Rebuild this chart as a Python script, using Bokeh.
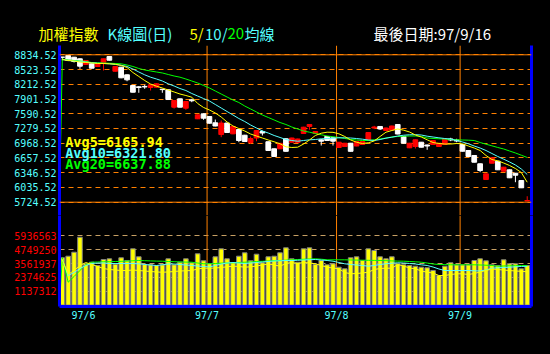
from bokeh.plotting import figure
from bokeh.models import Range1d, FixedTicker, Span, Label, LinearAxis, ColumnDataSource, NumeralTickFormatter
from bokeh.layouts import column
from bokeh.embed import file_html
from bokeh.resources import INLINE
from bokeh.core.properties import value

# ---------------- data ----------------
opens = [8785, 8820, 8784, 8750, 8630, 8645, 8588, 8666, 8799, 8488,
         8573, 8412, 8187, 8159, 8167, 8144, 8151, 8108, 8096, 7729,
         7906, 7708, 7885, 7484, 7589, 7532, 7400, 7152, 7395, 7167,
         7258, 7138, 6984, 7079, 7216, 7000, 6851, 6851, 7062, 6990,
         6984, 7174, 7321, 7174, 7041, 7111, 7083, 6879, 6900, 6969,
         6910, 6942, 7026, 7290, 7322, 7237, 7248, 7364, 7111, 6872,
         6900, 6990, 6931, 6942, 6900, 6942, 7058, 7037, 6942, 6815,
         6710, 6535, 6203, 6547, 6589, 6378, 6408, 6336, 6182, 5750]
highs = [8790, 8830, 8790, 8760, 8720, 8650, 8650, 8755, 8805, 8595,
         8580, 8420, 8195, 8172, 8201, 8205, 8230, 8117, 8100, 7875,
         7910, 7855, 7906, 7575, 7595, 7540, 7469, 7448, 7400, 7330,
         7265, 7145, 7110, 7245, 7237, 7005, 6855, 6975, 7070, 7085,
         7065, 7315, 7364, 7222, 7058, 7115, 7088, 6995, 6975, 6975,
         7010, 7010, 7200, 7336, 7326, 7300, 7340, 7370, 7115, 6975,
         7047, 6995, 6942, 7032, 6975, 7068, 7083, 7062, 6948, 6820,
         6715, 6540, 6330, 6667, 6595, 6470, 6414, 6336, 6188, 5850]
lows = [8714, 8700, 8672, 8539, 8620, 8545, 8580, 8503, 8715, 8480,
        8340, 8277, 8040, 8033, 8117, 8081, 8145, 8033, 7885, 7701,
        7725, 7674, 7834, 7478, 7463, 7385, 7325, 7096, 7190, 7160,
        6990, 7000, 6956, 7011, 7132, 6810, 6684, 6845, 6790, 6985,
        6978, 7168, 7252, 7168, 6920, 7020, 6920, 6873, 6895, 6793,
        6905, 6935, 7020, 7265, 7248, 7230, 7242, 7158, 6964, 6866,
        6857, 6880, 6830, 6936, 6895, 6936, 7012, 6990, 6795, 6684,
        6563, 6357, 6197, 6541, 6403, 6372, 6234, 6146, 6023, 5750]
closes = [8783, 8714, 8693, 8594, 8714, 8552, 8645, 8750, 8720, 8587,
          8349, 8307, 8045, 8144, 8156, 8201, 8223, 8100, 7891, 7870,
          7729, 7849, 7864, 7568, 7497, 7391, 7332, 7395, 7195, 7322,
          7026, 7005, 7068, 7237, 7184, 6815, 6689, 6967, 6798, 7079,
          7058, 7307, 7364, 7216, 7012, 7026, 7012, 6990, 6969, 6798,
          7005, 7005, 7195, 7311, 7269, 7290, 7332, 7163, 6969, 6969,
          7041, 6885, 6910, 7026, 6969, 7062, 7037, 7016, 6800, 6689,
          6568, 6393, 6323, 6661, 6408, 6463, 6239, 6294, 6028, 5760]
volumes = [4061000, 4198000, 4541000, 5829000, 3546000, 3683000, 3400000, 3915000, 3975000, 3511000,
           4061000, 3829000, 4833000, 4147000, 3486000, 3460000, 3400000, 3460000, 3975000, 3460000,
           3683000, 3975000, 3631000, 4404000, 3803000, 3571000, 4147000, 4833000, 3975000, 3657000,
           4198000, 4490000, 3803000, 4370000, 3631000, 4147000, 4198000, 4490000, 4919000, 3975000,
           3683000, 4833000, 4919000, 3486000, 3829000, 3460000, 3546000, 3254000, 3116000, 4061000,
           4147000, 3829000, 4833000, 4687000, 4147000, 3975000, 4147000, 3546000, 3460000, 3400000,
           3340000, 3254000, 3202000, 2970000, 2541000, 3340000, 3631000, 3460000, 3460000, 3460000,
           3829000, 3975000, 3803000, 3460000, 3400000, 3889000, 3546000, 3546000, 3116000, 3400000]
ma5 = [8735, 8714, 8704, 8682, 8672, 8662, 8651, 8651, 8645, 8636,
       8609, 8567, 8461, 8377, 8292, 8218, 8172, 8134, 8092, 8050,
       8007, 7976, 7940, 7807, 7723, 7670, 7607, 7522, 7417, 7332,
       7279, 7227, 7163, 7121, 7079, 7037, 6999, 6957, 6893, 6879,
       6885, 6952, 7037, 7132, 7180, 7201, 7199, 7168, 7111, 7037,
       6990, 6963, 6978, 7016, 7111, 7201, 7237, 7269, 7244, 7206,
       7142, 7100, 7041, 6984, 6963, 6952, 6952, 6963, 6957, 6910,
       6868, 6815, 6710, 6625, 6598, 6551, 6499, 6435, 6351, 6146]
ma10 = [8735, 8714, 8704, 8693, 8683, 8666, 8657, 8651, 8645, 8630,
        8615, 8588, 8535, 8472, 8412, 8362, 8324, 8282, 8223, 8176,
        8123, 8081, 8018, 7965, 7912, 7860, 7786, 7712, 7638, 7564,
        7490, 7427, 7353, 7290, 7227, 7184, 7132, 7090, 7047, 7026,
        7011, 7026, 7041, 7047, 7062, 7068, 7075, 7083, 7083, 7079,
        7068, 7054, 7037, 7026, 7047, 7075, 7096, 7121, 7138, 7147,
        7149, 7142, 7117, 7100, 7083, 7068, 7058, 7026, 6995, 6957,
        6910, 6868, 6815, 6752, 6689, 6632, 6573, 6509, 6425, 6309]
ma20 = [8746, 8725, 8714, 8704, 8693, 8672, 8666, 8662, 8657, 8651,
        8645, 8619, 8588, 8546, 8514, 8493, 8472, 8451, 8419, 8387,
        8362, 8324, 8282, 8240, 8187, 8134, 8071, 8007, 7944, 7881,
        7828, 7754, 7691, 7628, 7564, 7512, 7459, 7406, 7364, 7311,
        7269, 7227, 7201, 7174, 7147, 7121, 7106, 7090, 7069, 7047,
        7037, 7026, 7026, 7041, 7058, 7079, 7100, 7111, 7117, 7121,
        7121, 7111, 7079, 7069, 7062, 7058, 7047, 7041, 7037, 7033,
        7026, 6984, 6948, 6914, 6879, 6847, 6805, 6763, 6716, 6668]
vma5 = [3915000, 2627000, 2970000, 3400000, 3657000, 3486000, 3314000, 3142000, 3056000, 3013000,
        2970000, 2970000, 3013000, 2970000, 2927000, 2885000, 2842000, 2824000, 2842000, 2885000,
        2927000, 2945000, 2970000, 3099000, 3168000, 3168000, 3185000, 3228000, 3288000, 3340000,
        3314000, 3254000, 3288000, 3357000, 3443000, 3528000, 3443000, 3340000, 3571000, 3657000,
        3571000, 3657000, 3614000, 3546000, 3400000, 3254000, 3185000, 3116000, 2799000, 2687000,
        2713000, 2756000, 2824000, 3056000, 3142000, 3168000, 3168000, 3486000, 3357000, 3185000,
        3116000, 2927000, 2824000, 2756000, 2541000, 2541000, 2627000, 2687000, 2687000, 2627000,
        2713000, 2842000, 2970000, 3099000, 3056000, 3013000, 2970000, 2927000, 2902000, 2859000]
vma10 = [3915000, 2541000, 2799000, 3142000, 3400000, 3571000, 3614000, 3614000, 3571000, 3571000,
         3571000, 3571000, 3571000, 3546000, 3486000, 3443000, 3400000, 3460000, 3528000, 3528000,
         3486000, 3443000, 3400000, 3357000, 3314000, 3271000, 3400000, 3528000, 3614000, 3657000,
         3614000, 3571000, 3614000, 3657000, 3700000, 3743000, 3786000, 3803000, 3829000, 3829000,
         3846000, 3872000, 3898000, 3915000, 3872000, 3829000, 3769000, 3657000, 3546000, 3486000,
         3443000, 3400000, 3340000, 3400000, 3486000, 3546000, 3597000, 3631000, 3614000, 3571000,
         3528000, 3460000, 3400000, 3271000, 3099000, 2970000, 2970000, 2970000, 2970000, 2970000,
         2945000, 2927000, 3013000, 3168000, 3202000, 3228000, 3254000, 3288000, 3314000, 3331000]
vma20 = [4061000, 1966000, 2455000, 2970000, 3486000, 3683000, 3700000, 3717000, 3726000, 3743000,
         3760000, 3777000, 3803000, 3829000, 3812000, 3795000, 3777000, 3769000, 3743000, 3726000,
         3708000, 3691000, 3683000, 3614000, 3546000, 3546000, 3571000, 3597000, 3614000, 3631000,
         3657000, 3683000, 3700000, 3743000, 3760000, 3786000, 3812000, 3829000, 3855000, 3889000,
         3915000, 3932000, 3958000, 3975000, 3940000, 3889000, 3889000, 3889000, 3889000, 3872000,
         3863000, 3855000, 3846000, 3837000, 3829000, 3812000, 3795000, 3777000, 3769000, 3743000,
         3717000, 3683000, 3614000, 3528000, 3486000, 3477000, 3460000, 3460000, 3460000, 3460000,
         3460000, 3443000, 3425000, 3400000, 3340000, 3357000, 3374000, 3382000, 3400000, 3400000]

price_ticks = [8834.52, 8523.52, 8212.52, 7901.52, 7590.52, 7279.52,
               6968.52, 6657.52, 6346.52, 6035.52, 5724.52]
vol_ticks = [1187312, 2374625, 3561937, 4749250, 5936563]
vol_tick_labels = ["1137312", "2374625", "3561937", "4749250", "5936563"]
month_labels = ["97/6", "97/7", "97/8", "97/9"]
month_starts = [4, 25, 47, 68]
avg_texts = ["Avg5=6165.94", "Avg10=6321.80", "Avg20=6637.88"]
title_parts = ["加權指數", "K線圖(日)", "5/", "10/", "20", "均線", "最後日期:97/9/16"]

# ---------------- styles ----------------
ORANGE = "#FF8000"
BLUE = "#0000FF"
CYAN = "#55FFFF"
YELLOW = "#FFFF00"
GREEN = "#00FF00"
RED = "#FF0000"
TAN = "#C8A064"
MONO = "DejaVu Sans Mono"
CJK = "Noto Sans CJK TC"

N = len(closes)
idx = list(range(N))
xr = Range1d(-0.476, 79.73)

def base_fig(height, yr, top, bottom):
    p = figure(width=550, height=height, x_range=xr, y_range=yr,
               output_backend="svg", toolbar_location=None,
               min_border_left=59, min_border_right=19,
               min_border_top=top, min_border_bottom=bottom,
               background_fill_color="black", border_fill_color="black",
               outline_line_color=None)
    p.xgrid.visible = False
    return p

def style_axis(ax, color):
    ax.axis_line_color = BLUE
    ax.axis_line_width = 3
    ax.major_tick_line_color = None
    ax.minor_tick_line_color = None
    ax.major_tick_out = 0
    ax.major_tick_in = 0
    ax.minor_tick_out = 0
    ax.minor_tick_in = 0
    ax.major_label_text_color = color
    ax.major_label_text_font = MONO
    ax.major_label_text_font_size = "10px"
    ax.major_label_standoff = 3

def right_axis(p):
    ra = LinearAxis(ticker=FixedTicker(ticks=[]), major_label_text_font_size="0px")
    style_axis(ra, "black")
    p.add_layout(ra, "right")

# ---------------- title strip ----------------
pT = figure(width=550, height=45, x_range=Range1d(0, 550), y_range=Range1d(45, 0),
            output_backend="svg", toolbar_location=None,
            min_border_left=0, min_border_right=0, min_border_top=0, min_border_bottom=0,
            background_fill_color="black", border_fill_color="black",
            outline_line_color=None, x_axis_location=None, y_axis_location=None)
pT.frame_align = False
pT.xgrid.visible = False
pT.ygrid.visible = False
pT.text(x=[38, 107, 189, 204.5, 227, 244, 373], y=[33] * 7, text=title_parts,
        text_color=[YELLOW, CYAN, YELLOW, CYAN, GREEN, CYAN, "#FFFFFF"],
        text_font=value(CJK), text_font_size="15px", text_baseline="middle")

# ---------------- price panel ----------------
pA = base_fig(170, Range1d(5443.75, 9030.75), 0, 0)
pA.xaxis.visible = False
style_axis(pA.yaxis[0], CYAN)
pA.yaxis.ticker = FixedTicker(ticks=price_ticks)
pA.yaxis.formatter = NumeralTickFormatter(format="0.00")
pA.ygrid.ticker = FixedTicker(ticks=price_ticks)
pA.ygrid.grid_line_color = ORANGE
pA.ygrid.grid_line_dash = "5 4"
right_axis(pA)
for loc in (price_ticks[0], price_ticks[-1]):
    pA.add_layout(Span(location=loc, dimension="width", line_color=ORANGE, line_width=1))
for m in month_starts[1:]:
    pA.add_layout(Span(location=m - 0.4, dimension="height", line_color=ORANGE,
                       line_width=1, level="underlay"))

colors = [RED if c > o else "#FFFFFF" for o, c in zip(opens, closes)]
src = ColumnDataSource(dict(x=idx, top=[max(o, c) for o, c in zip(opens, closes)],
                            bottom=[min(o, c) for o, c in zip(opens, closes)],
                            high=highs, low=lows, color=colors))
pA.segment(x0="x", y0="low", x1="x", y1="high", color="color", line_width=1, source=src)
pA.vbar(x="x", width=0.8, top="top", bottom="bottom", fill_color="color",
        line_color="color", line_width=1, source=src)

pA.line([xr.start] + idx, [price_ticks[-1]] + ma20, line_color=GREEN, line_width=1)
pA.line(idx, ma10, line_color=CYAN, line_width=1)
pA.line(idx, ma5, line_color=YELLOW, line_width=1)

for txt, col, yv in zip(avg_texts, [YELLOW, CYAN, GREEN], [7005, 6763, 6535]):
    pA.add_layout(Label(x=0.5, y=yv, text=txt, text_color=col, text_font=MONO,
                        text_font_style="bold", text_font_size="13.5px",
                        text_baseline="middle"))

# ---------------- volume panel ----------------
pB = base_fig(139, Range1d(-120190, 7692160), 0, 48)
style_axis(pB.yaxis[0], RED)
pB.yaxis.ticker = FixedTicker(ticks=vol_ticks)
pB.yaxis.major_label_overrides = dict(zip(vol_ticks, vol_tick_labels))
pB.ygrid.ticker = FixedTicker(ticks=vol_ticks)
pB.ygrid.grid_line_color = TAN
pB.ygrid.grid_line_dash = "5 4"
style_axis(pB.xaxis[0], CYAN)
tick_pos = [m - 0.4 for m in month_starts]
pB.xaxis.ticker = FixedTicker(ticks=tick_pos)
pB.xaxis.major_label_overrides = dict(zip(tick_pos, month_labels))
pB.xaxis.major_label_standoff = 3
right_axis(pB)
for m in month_starts[1:]:
    pB.add_layout(Span(location=m - 0.4, dimension="height", line_color=ORANGE,
                       line_width=1, level="underlay"))

pB.vbar(x=idx, width=0.78, top=volumes, bottom=0, fill_color=YELLOW,
        line_color="#808080", line_width=1)
pB.line([xr.start] + idx, [0] + vma20, line_color=GREEN, line_width=1)
pB.line(idx, vma10, line_color=CYAN, line_width=1)
pB.line(idx, vma5, line_color=YELLOW, line_width=1)

layout = column(pT, pA, pB, spacing=0, background="black")
open("out.html", "w").write(file_html(layout, INLINE))
